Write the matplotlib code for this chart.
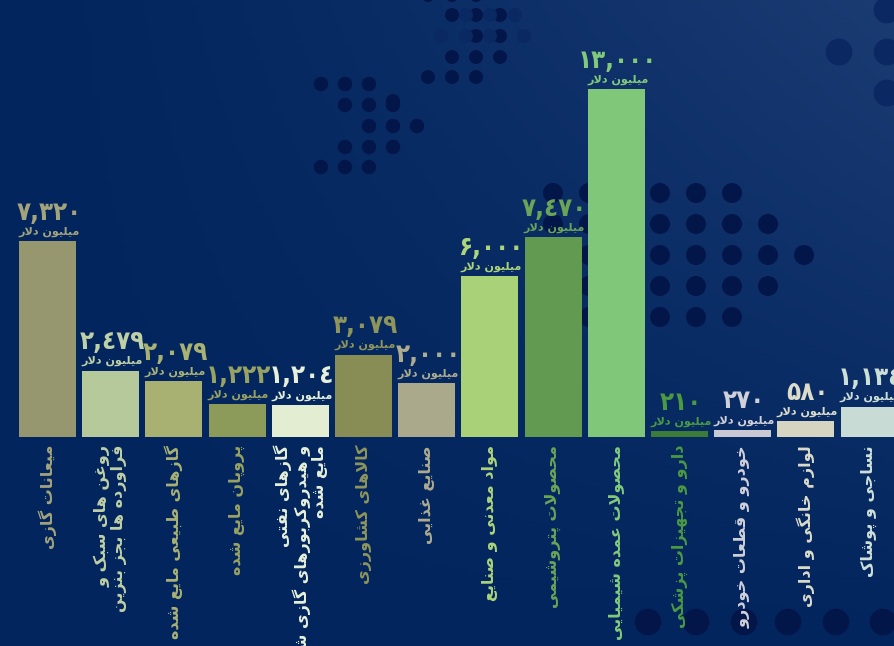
import numpy as np
import matplotlib
matplotlib.use("Agg")
from matplotlib import pyplot as plt
from matplotlib.patches import Circle
from matplotlib.colors import to_rgb

# chart data
categories = [
    "میعانات گازی",
    "روغن های سبک و\nفراورده ها بجز بنزین",
    "گازهای طبیعی مایع شده",
    "پروپان مایع شده",
    "گازهای نفتی\nو هیدروکربورهای گازی شکل\nمایع شده",
    "کالاهای کشاورزی",
    "صنایع غذایی",
    "مواد معدنی و صنایع",
    "محصولات پتروشیمی",
    "محصولات عمده شیمیایی",
    "دارو و تجهیزات پزشکی",
    "خودرو و قطعات خودرو",
    "لوازم خانگی و اداری",
    "نساجی و پوشاک",
]
values = [7320, 2479, 2079, 1222, 1204, 3079, 2000, 6000, 7470, 13000, 210, 270, 580, 1134]
unit = "میلیون دلار"

bar_colors = ["#96966f", "#b5c99a", "#a8b072", "#8c9a5a", "#e2edd2", "#878d55", "#aba98b",
              "#a9d178", "#639a51", "#80c779", "#3b7c39", "#c9c9d3", "#d5d5c2", "#c8dcd5"]
text_colors = ["#a3a37c", "#bfd0a6", "#a9b173", "#98a262", "#e6f0da", "#8e955b", "#aeac8f",
               "#abd47b", "#6aa457", "#82ca7b", "#4b9a42", "#d0d0da", "#dcdccb", "#cde0d8"]

# --- tiny persian shaper (matplotlib has no arabic shaping / bidi) ---
FORMS = {
    'ا': '\uFE8D\uFE8E', 'آ': '\uFE81\uFE82', 'ب': '\uFE8F\uFE90\uFE91\uFE92',
    'پ': '\uFB56\uFB57\uFB58\uFB59', 'ت': '\uFE95\uFE96\uFE97\uFE98',
    'ث': '\uFE99\uFE9A\uFE9B\uFE9C', 'ج': '\uFE9D\uFE9E\uFE9F\uFEA0',
    'چ': '\uFB7A\uFB7B\uFB7C\uFB7D', 'ح': '\uFEA1\uFEA2\uFEA3\uFEA4',
    'خ': '\uFEA5\uFEA6\uFEA7\uFEA8', 'د': '\uFEA9\uFEAA', 'ذ': '\uFEAB\uFEAC',
    'ر': '\uFEAD\uFEAE', 'ز': '\uFEAF\uFEB0', 'ژ': '\uFB8A\uFB8B',
    'س': '\uFEB1\uFEB2\uFEB3\uFEB4', 'ش': '\uFEB5\uFEB6\uFEB7\uFEB8',
    'ص': '\uFEB9\uFEBA\uFEBB\uFEBC', 'ض': '\uFEBD\uFEBE\uFEBF\uFEC0',
    'ط': '\uFEC1\uFEC2\uFEC3\uFEC4', 'ظ': '\uFEC5\uFEC6\uFEC7\uFEC8',
    'ع': '\uFEC9\uFECA\uFECB\uFECC', 'غ': '\uFECD\uFECE\uFECF\uFED0',
    'ف': '\uFED1\uFED2\uFED3\uFED4', 'ق': '\uFED5\uFED6\uFED7\uFED8',
    'ک': '\uFB8E\uFB8F\uFB90\uFB91', 'گ': '\uFB92\uFB93\uFB94\uFB95',
    'ل': '\uFEDD\uFEDE\uFEDF\uFEE0', 'م': '\uFEE1\uFEE2\uFEE3\uFEE4',
    'ن': '\uFEE5\uFEE6\uFEE7\uFEE8', 'و': '\uFEED\uFEEE',
    'ه': '\uFEE9\uFEEA\uFEEB\uFEEC', 'ی': '\uFBFC\uFBFD\uFBFE\uFBFF',
}
LAM_ALEF = {'ا': '\uFEFB\uFEFC', 'آ': '\uFEF5\uFEF6'}


def shape_line(s):
    res = []
    i = 0
    while i < len(s):
        c = s[i]
        if c not in FORMS:
            res.append(c)
            i += 1
            continue
        prev_joins = i > 0 and s[i - 1] in FORMS and len(FORMS[s[i - 1]]) == 4
        if c == 'ل' and i + 1 < len(s) and s[i + 1] in LAM_ALEF:
            res.append(LAM_ALEF[s[i + 1]][1 if prev_joins else 0])
            i += 2
            continue
        f = FORMS[c]
        next_joins = len(f) == 4 and i + 1 < len(s) and s[i + 1] in FORMS
        if prev_joins and next_joins:
            g = f[3]
        elif prev_joins:
            g = f[1]
        elif next_joins:
            g = f[2]
        else:
            g = f[0]
        res.append(g)
        i += 1
    return ''.join(reversed(res))


def fa(s):
    return '\n'.join(shape_line(line) for line in s.split('\n'))


def fa_num(v):
    digits = '۰۱۲۳٤۵۶۷۸۹'
    return ''.join(digits[int(ch)] if ch.isdigit() else ch for ch in f"{v:,}")


W, H = 894, 646
fig = plt.figure(figsize=(W / 100, H / 100), dpi=100)

# background gradient + decorative dots (pixel coords)
bg = fig.add_axes([0, 0, 1, 1])
bg.set_xlim(0, W)
bg.set_ylim(H, 0)
bg.axis("off")
gx, gy = np.meshgrid(np.linspace(0, 1, 200), np.linspace(0, 1, 150))
t = np.clip(gx * (1 - gy) ** 0.8, 0, 1) ** 1.3
c0, c1 = np.array(to_rgb("#02255d")), np.array(to_rgb("#1b3b73"))
bg.imshow(c0 + (c1 - c0) * t[..., None], extent=(0, W, H, 0), aspect="auto", zorder=0)

dark = "#03164a"
light = "#0b2862"
dots_dark = [(428, -5), (452, -5), (476, -5), (452, 15), (476, 15), (500, 15),
             (476, 36), (500, 36), (452, 57), (476, 57), (500, 57),
             (428, 77), (452, 77), (476, 77), (393, 101)]
dots_light = [(466, 15), (490, 15), (515, 15), (441, 36), (466, 36), (490, 36), (524, 36)]
for px, py in dots_dark:
    bg.add_patch(Circle((px, py), 6.3, color=dark, zorder=1))
for px, py in dots_light:
    bg.add_patch(Circle((px, py), 6.3, color="#0a2862", zorder=1))
arrow_small = [(321, 84), (345, 84), (369, 84), (345, 105), (369, 105), (393, 105),
               (369, 126), (393, 126), (417, 126), (345, 147), (369, 147), (393, 147),
               (321, 167), (345, 167), (369, 167)]
for px, py in arrow_small:
    bg.add_patch(Circle((px, py), 6.5, color=dark, zorder=1))
cols = [553, 589, 624, 660, 696, 732, 768, 804]
row_len = [6, 7, 8, 7, 6]
for r, n in enumerate(row_len):
    for px in cols[:n]:
        bg.add_patch(Circle((px, 193 + 31 * r), 9.3, color=dark, zorder=1))
for px, py in [(839, 52), (887, 10), (887, 52), (887, 93)]:
    bg.add_patch(Circle((px, py), 12.7, color=light, zorder=1))
for px in [648, 696, 744, 788, 836, 883]:
    bg.add_patch(Circle((px, 622), 12.6, color=dark, zorder=1))

# bar chart axes, transparent, placed over the whole figure
ax = fig.add_axes([0, 0, 1, 1])
ax.patch.set_alpha(0)
ax.axis("off")
step, x0 = 63.2, 47.5
ax.set_xlim(-x0 / step, (W - x0) / step)
ppx = 13000 / (437 - 89)
ax.set_ylim(-(H - 437) * ppx, 13000 + 89 * ppx)

x = np.arange(len(values))
ax.bar(x, values, width=0.9, color=bar_colors, zorder=2)

for i, v in enumerate(values):
    ax.annotate(fa(unit), (i, v), xytext=(1, 3), textcoords="offset points",
                ha="center", va="bottom", fontsize=8, fontweight="bold",
                color=text_colors[i], annotation_clip=False)
    ax.annotate(fa_num(v), (i, v), xytext=(1, 11), textcoords="offset points",
                ha="center", va="bottom", fontsize=18.5, fontweight="bold",
                fontstretch="condensed", color=text_colors[i], annotation_clip=False)
    ax.text(i, -8 * ppx, fa(categories[i]), rotation=90, rotation_mode="anchor",
            ha="right", va="center", multialignment="right", fontsize=11.5,
            fontweight="bold", color=text_colors[i], linespacing=1.05, clip_on=False)

fig.savefig("out.png", dpi=100)
